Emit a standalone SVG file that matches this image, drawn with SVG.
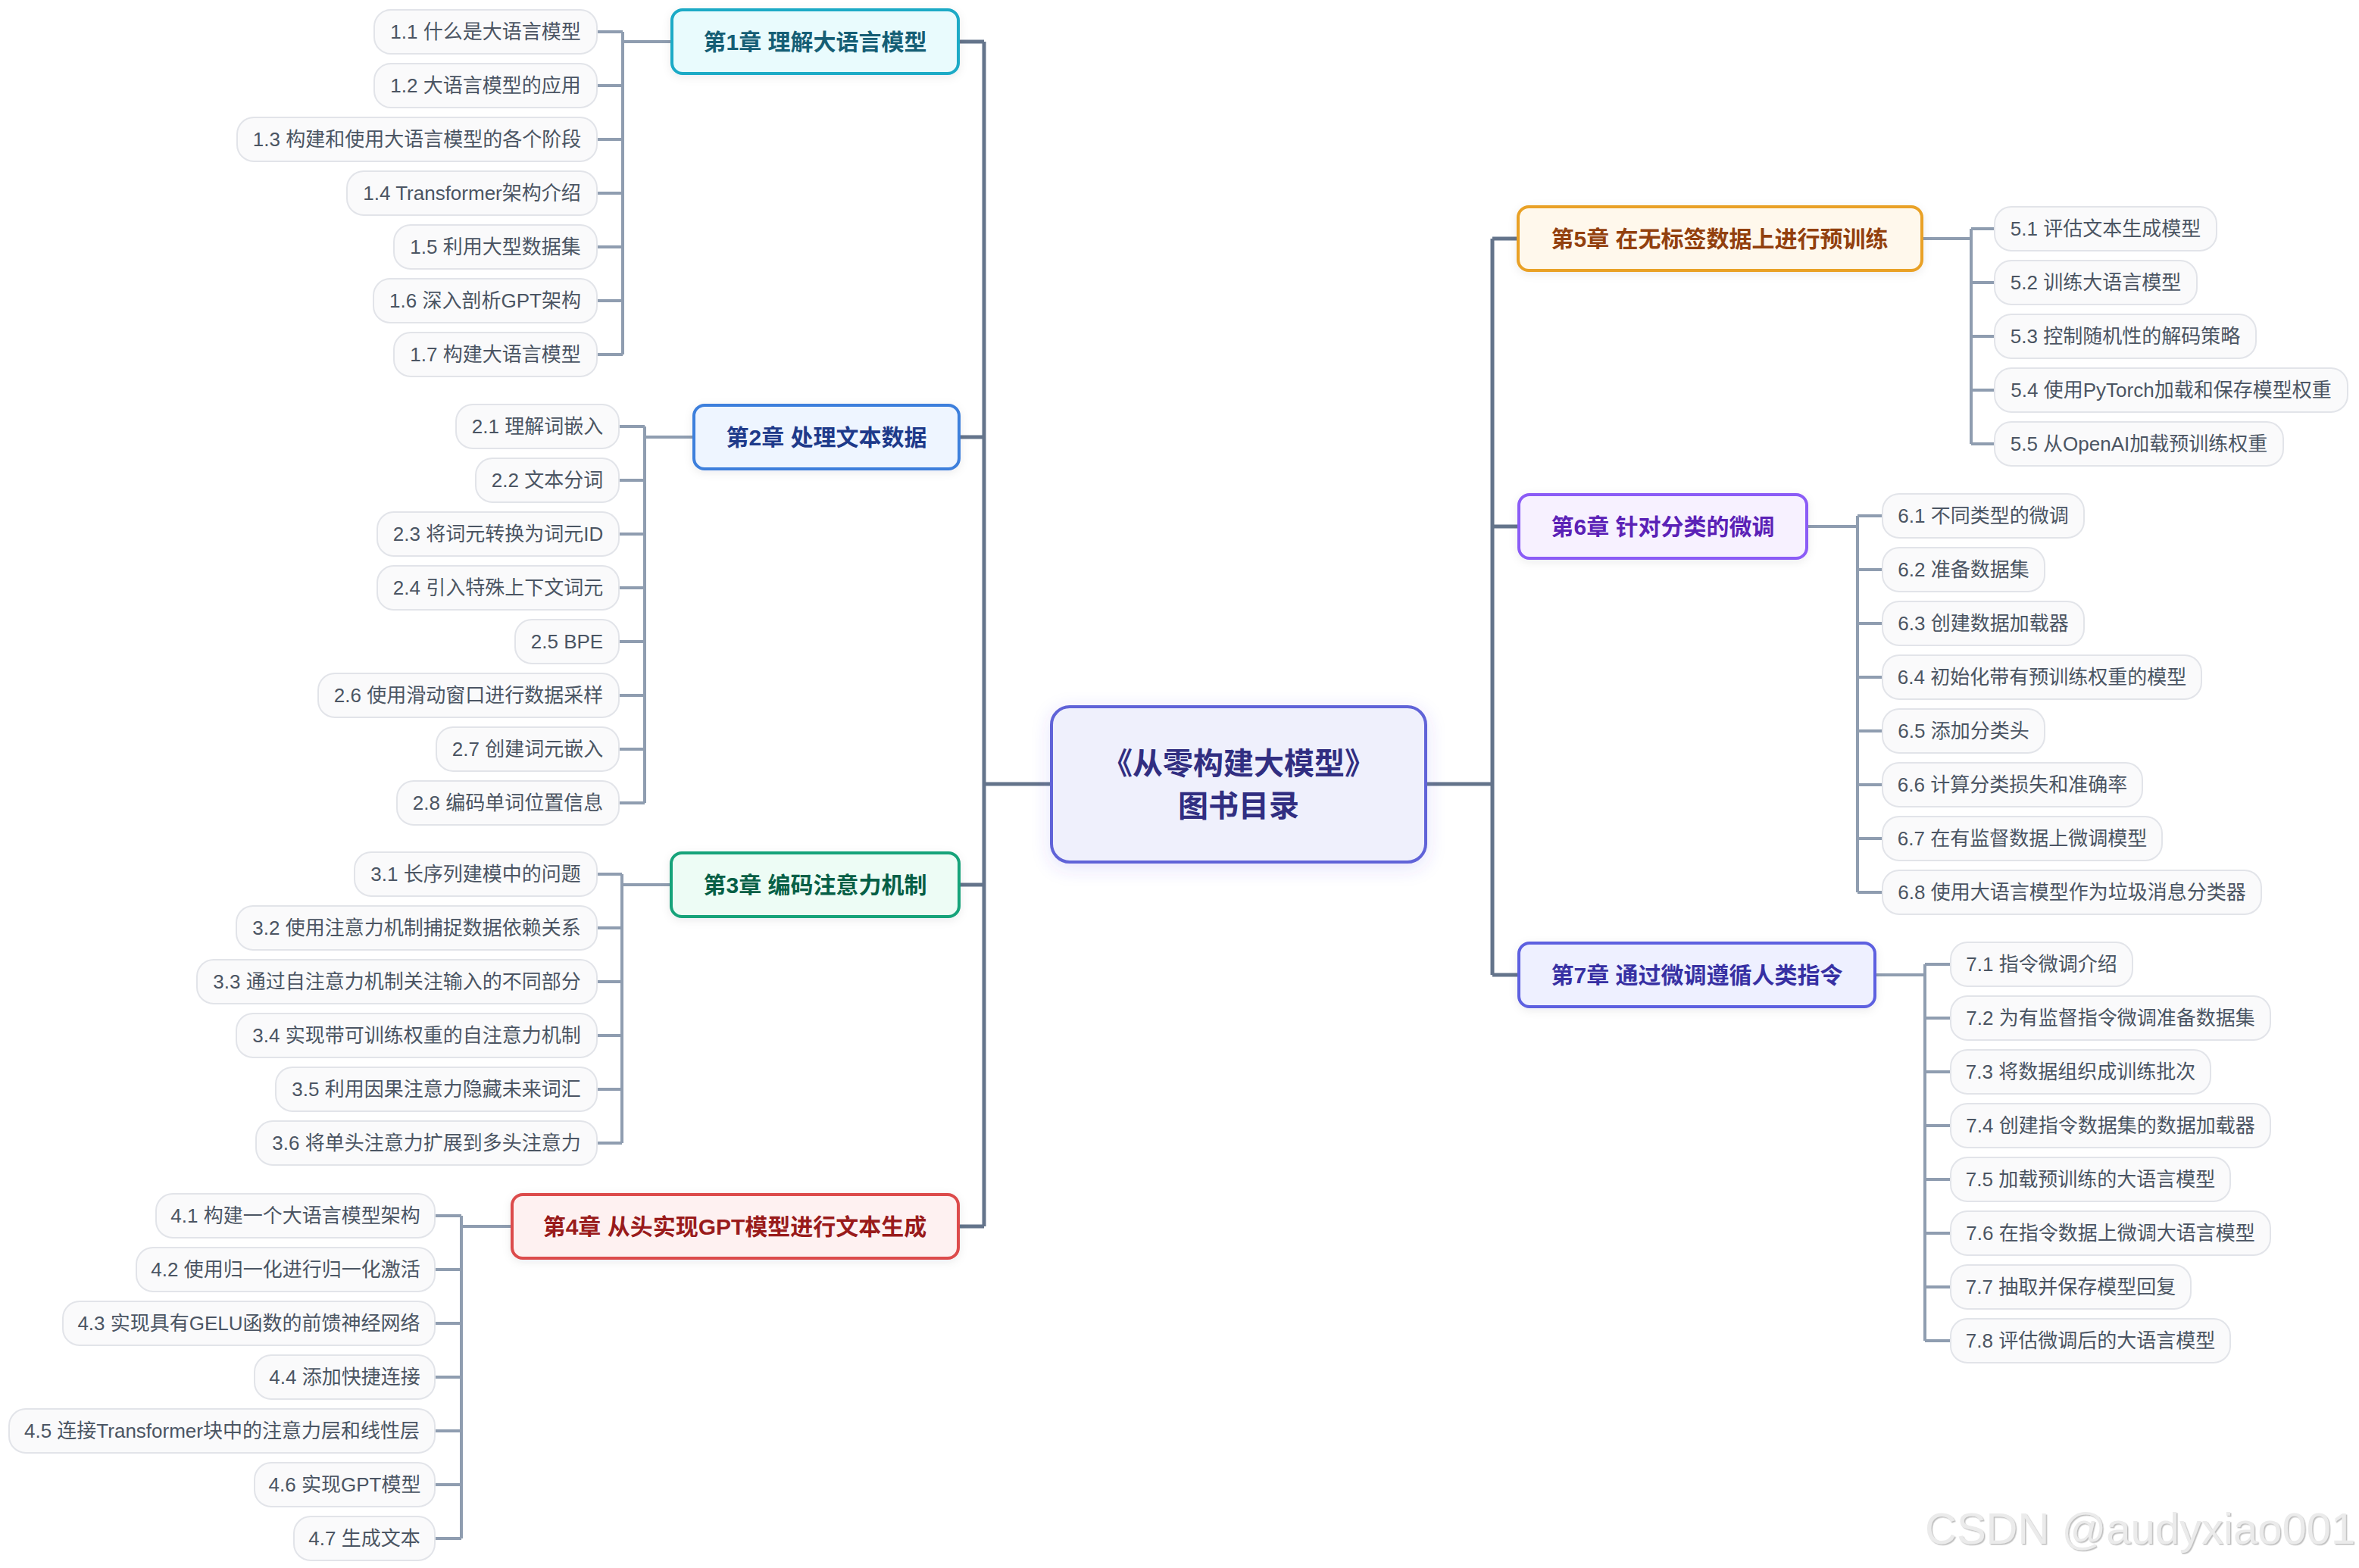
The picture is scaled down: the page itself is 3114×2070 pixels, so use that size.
<svg xmlns="http://www.w3.org/2000/svg" width="3114" height="2070" viewBox="0 0 3114 2070">
<defs>
<style>
.pill{fill:#fafafb;stroke:#e2e4e9;stroke-width:2}
.st{font-family:"Liberation Sans","Noto Sans CJK SC",sans-serif;font-size:26px;fill:#4b5563;text-anchor:middle;dominant-baseline:central}
.ct{font-family:"Liberation Sans","Noto Sans CJK SC",sans-serif;font-size:30px;font-weight:bold;text-anchor:middle;dominant-baseline:central}
.chap{stroke-width:4;filter:url(#sh)}
.sub{fill:none;stroke:#8f9db0;stroke-width:4}
.main{fill:none;stroke:#64748b;stroke-width:5}
.wm{font-family:"Liberation Sans",sans-serif;font-size:58px;fill:#ebebeb;filter:url(#emb)}
</style>
<filter id="sh" x="-20%" y="-40%" width="140%" height="180%">
<feDropShadow dx="0" dy="3" stdDeviation="6" flood-color="#1e293b" flood-opacity="0.08"/>
</filter>
<filter id="csh" x="-20%" y="-30%" width="140%" height="160%">
<feDropShadow dx="0" dy="6" stdDeviation="12" flood-color="#4f46e5" flood-opacity="0.15"/>
</filter>
<filter id="emb" x="-5%" y="-20%" width="110%" height="140%">
<feDropShadow dx="1.5" dy="1.5" stdDeviation="0.6" flood-color="#b8b8b8" flood-opacity="0.9"/>
</filter>
</defs>
<rect x="0" y="0" width="3114" height="2070" fill="#ffffff"/>

<g id="connectors">
<path class="main" d="M1388,1035 H1299 M1299,55 V1619 M1265,55 H1299 M1266,577 H1299 M1266,1168 H1299 M1265,1619 H1299"/>
<path class="main" d="M1882,1035 H1970 M1970,315 V1287 M1970,315 H2004 M1970,695 H2005 M1970,1287 H2005"/>
<path class="sub" d="M887,55 H822 M822,42 V468 M788,42 H822 M788,113 H822 M788,184 H822 M788,255 H822 M788,326 H822 M788,397 H822 M788,468 H822"/>
<path class="sub" d="M916,577 H851 M851,563 V1060 M817,563 H851 M817,634 H851 M817,705 H851 M817,776 H851 M817,847 H851 M817,918 H851 M817,989 H851 M817,1060 H851"/>
<path class="sub" d="M886,1168 H821 M821,1154 V1509 M788,1154 H821 M788,1225 H821 M788,1296 H821 M788,1367 H821 M788,1438 H821 M788,1509 H821"/>
<path class="sub" d="M676,1619 H609 M609,1605 V2031 M574,1605 H609 M574,1676 H609 M574,1747 H609 M574,1818 H609 M574,1889 H609 M574,1960 H609 M574,2031 H609"/>
<path class="sub" d="M2537,315 H2602 M2602,302 V586 M2602,302 H2633 M2602,373 H2633 M2602,444 H2633 M2602,515 H2633 M2602,586 H2633"/>
<path class="sub" d="M2385,695 H2452 M2452,681 V1178 M2452,681 H2485 M2452,752 H2485 M2452,823 H2485 M2452,894 H2485 M2452,965 H2485 M2452,1036 H2485 M2452,1107 H2485 M2452,1178 H2485"/>
<path class="sub" d="M2475,1287 H2541 M2541,1273 V1770 M2541,1273 H2575 M2541,1344 H2575 M2541,1415 H2575 M2541,1486 H2575 M2541,1557 H2575 M2541,1628 H2575 M2541,1699 H2575 M2541,1770 H2575"/>
</g>

<g id="root">
<rect x="1388" y="933" width="494" height="205" rx="24" fill="#eff0fc" stroke="#6064d8" stroke-width="4" filter="url(#csh)"/>
<text x="1635" y="1008" font-family="'Liberation Sans','Noto Sans CJK SC',sans-serif" font-size="40" font-weight="bold" fill="#312e81" text-anchor="middle" dominant-baseline="central">《从零构建大模型》</text>
<text x="1635" y="1064" font-family="'Liberation Sans','Noto Sans CJK SC',sans-serif" font-size="40" font-weight="bold" fill="#312e81" text-anchor="middle" dominant-baseline="central">图书目录</text>
</g>

<g id="ch1"><rect class="chap" x="887" y="13" width="378" height="84" rx="14" fill="#e9fbfd" stroke="#1aaac6"/><text class="ct" x="1076" y="55" fill="#155e75">第1章 理解大语言模型</text></g>
<g id="ch2"><rect class="chap" x="916" y="535" width="350" height="84" rx="14" fill="#eef5ff" stroke="#3d7fdc"/><text class="ct" x="1091" y="577" fill="#1e3a8a">第2章 处理文本数据</text></g>
<g id="ch3"><rect class="chap" x="886" y="1126" width="380" height="84" rx="14" fill="#edfcf5" stroke="#16a37a"/><text class="ct" x="1076" y="1168" fill="#065f46">第3章 编码注意力机制</text></g>
<g id="ch4"><rect class="chap" x="676" y="1577" width="589" height="84" rx="14" fill="#fef1f1" stroke="#dc4b4b"/><text class="ct" x="970" y="1619" fill="#991b1b">第4章 从头实现GPT模型进行文本生成</text></g>
<g id="ch5"><rect class="chap" x="2004" y="273" width="533" height="84" rx="14" fill="#fff8ec" stroke="#e9a126"/><text class="ct" x="2270" y="315" fill="#92400e">第5章 在无标签数据上进行预训练</text></g>
<g id="ch6"><rect class="chap" x="2005" y="653" width="380" height="84" rx="14" fill="#f7f1ff" stroke="#8b5cf6"/><text class="ct" x="2195" y="695" fill="#5b21b6">第6章 针对分类的微调</text></g>
<g id="ch7"><rect class="chap" x="2005" y="1245" width="470" height="84" rx="14" fill="#eef0ff" stroke="#5d60e0"/><text class="ct" x="2240" y="1287" fill="#3730a3">第7章 通过微调遵循人类指令</text></g>

<g id="s1-1"><rect class="pill" x="494" y="13" width="294" height="58" rx="22"/><text class="st" x="641" y="42">1.1 什么是大语言模型</text></g>
<g id="s1-2"><rect class="pill" x="494" y="84" width="294" height="58" rx="22"/><text class="st" x="641" y="113">1.2 大语言模型的应用</text></g>
<g id="s1-3"><rect class="pill" x="313" y="155" width="475" height="58" rx="22"/><text class="st" x="550.5" y="184">1.3 构建和使用大语言模型的各个阶段</text></g>
<g id="s1-4"><rect class="pill" x="458" y="226" width="330" height="58" rx="22"/><text class="st" x="623" y="255">1.4 Transformer架构介绍</text></g>
<g id="s1-5"><rect class="pill" x="520" y="297" width="268" height="58" rx="22"/><text class="st" x="654" y="326">1.5 利用大型数据集</text></g>
<g id="s1-6"><rect class="pill" x="493" y="368" width="295" height="58" rx="22"/><text class="st" x="640.5" y="397">1.6 深入剖析GPT架构</text></g>
<g id="s1-7"><rect class="pill" x="520" y="439" width="268" height="58" rx="22"/><text class="st" x="654" y="468">1.7 构建大语言模型</text></g>

<g id="s2-1"><rect class="pill" x="602" y="534" width="215" height="58" rx="22"/><text class="st" x="709.5" y="563">2.1 理解词嵌入</text></g>
<g id="s2-2"><rect class="pill" x="628" y="605" width="189" height="58" rx="22"/><text class="st" x="722.5" y="634">2.2 文本分词</text></g>
<g id="s2-3"><rect class="pill" x="498" y="676" width="319" height="58" rx="22"/><text class="st" x="657.5" y="705">2.3 将词元转换为词元ID</text></g>
<g id="s2-4"><rect class="pill" x="498" y="747" width="319" height="58" rx="22"/><text class="st" x="657.5" y="776">2.4 引入特殊上下文词元</text></g>
<g id="s2-5"><rect class="pill" x="680" y="818" width="137" height="58" rx="22"/><text class="st" x="748.5" y="847">2.5 BPE</text></g>
<g id="s2-6"><rect class="pill" x="420" y="889" width="397" height="58" rx="22"/><text class="st" x="618.5" y="918">2.6 使用滑动窗口进行数据采样</text></g>
<g id="s2-7"><rect class="pill" x="576" y="960" width="241" height="58" rx="22"/><text class="st" x="696.5" y="989">2.7 创建词元嵌入</text></g>
<g id="s2-8"><rect class="pill" x="524" y="1031" width="293" height="58" rx="22"/><text class="st" x="670.5" y="1060">2.8 编码单词位置信息</text></g>

<g id="s3-1"><rect class="pill" x="468" y="1125" width="320" height="58" rx="22"/><text class="st" x="628" y="1154">3.1 长序列建模中的问题</text></g>
<g id="s3-2"><rect class="pill" x="312" y="1196" width="476" height="58" rx="22"/><text class="st" x="550" y="1225">3.2 使用注意力机制捕捉数据依赖关系</text></g>
<g id="s3-3"><rect class="pill" x="260" y="1267" width="528" height="58" rx="22"/><text class="st" x="524" y="1296">3.3 通过自注意力机制关注输入的不同部分</text></g>
<g id="s3-4"><rect class="pill" x="312" y="1338" width="476" height="58" rx="22"/><text class="st" x="550" y="1367">3.4 实现带可训练权重的自注意力机制</text></g>
<g id="s3-5"><rect class="pill" x="364" y="1409" width="424" height="58" rx="22"/><text class="st" x="576" y="1438">3.5 利用因果注意力隐藏未来词汇</text></g>
<g id="s3-6"><rect class="pill" x="338" y="1480" width="450" height="58" rx="22"/><text class="st" x="563" y="1509">3.6 将单头注意力扩展到多头注意力</text></g>

<g id="s4-1"><rect class="pill" x="206" y="1576" width="368" height="58" rx="22"/><text class="st" x="390" y="1605">4.1 构建一个大语言模型架构</text></g>
<g id="s4-2"><rect class="pill" x="180" y="1647" width="394" height="58" rx="22"/><text class="st" x="377" y="1676">4.2 使用归一化进行归一化激活</text></g>
<g id="s4-3"><rect class="pill" x="83" y="1718" width="491" height="58" rx="22"/><text class="st" x="328.5" y="1747">4.3 实现具有GELU函数的前馈神经网络</text></g>
<g id="s4-4"><rect class="pill" x="336" y="1789" width="238" height="58" rx="22"/><text class="st" x="455" y="1818">4.4 添加快捷连接</text></g>
<g id="s4-5"><rect class="pill" x="12" y="1860" width="562" height="58" rx="22"/><text class="st" x="293" y="1889">4.5 连接Transformer块中的注意力层和线性层</text></g>
<g id="s4-6"><rect class="pill" x="336" y="1931" width="238" height="58" rx="22"/><text class="st" x="455" y="1960">4.6 实现GPT模型</text></g>
<g id="s4-7"><rect class="pill" x="388" y="2002" width="186" height="58" rx="22"/><text class="st" x="481" y="2031">4.7 生成文本</text></g>

<g id="s5-1"><rect class="pill" x="2633" y="273" width="293" height="58" rx="22"/><text class="st" x="2779.5" y="302">5.1 评估文本生成模型</text></g>
<g id="s5-2"><rect class="pill" x="2633" y="344" width="267" height="58" rx="22"/><text class="st" x="2766.5" y="373">5.2 训练大语言模型</text></g>
<g id="s5-3"><rect class="pill" x="2633" y="415" width="345" height="58" rx="22"/><text class="st" x="2805.5" y="444">5.3 控制随机性的解码策略</text></g>
<g id="s5-4"><rect class="pill" x="2633" y="486" width="466" height="58" rx="22"/><text class="st" x="2866" y="515">5.4 使用PyTorch加载和保存模型权重</text></g>
<g id="s5-5"><rect class="pill" x="2633" y="557" width="381" height="58" rx="22"/><text class="st" x="2823.5" y="586">5.5 从OpenAI加载预训练权重</text></g>

<g id="s6-1"><rect class="pill" x="2485" y="652" width="266" height="58" rx="22"/><text class="st" x="2618" y="681">6.1 不同类型的微调</text></g>
<g id="s6-2"><rect class="pill" x="2485" y="723" width="214" height="58" rx="22"/><text class="st" x="2592" y="752">6.2 准备数据集</text></g>
<g id="s6-3"><rect class="pill" x="2485" y="794" width="266" height="58" rx="22"/><text class="st" x="2618" y="823">6.3 创建数据加载器</text></g>
<g id="s6-4"><rect class="pill" x="2485" y="865" width="421" height="58" rx="22"/><text class="st" x="2695.5" y="894">6.4 初始化带有预训练权重的模型</text></g>
<g id="s6-5"><rect class="pill" x="2485" y="936" width="214" height="58" rx="22"/><text class="st" x="2592" y="965">6.5 添加分类头</text></g>
<g id="s6-6"><rect class="pill" x="2485" y="1007" width="343" height="58" rx="22"/><text class="st" x="2656.5" y="1036">6.6 计算分类损失和准确率</text></g>
<g id="s6-7"><rect class="pill" x="2485" y="1078" width="369" height="58" rx="22"/><text class="st" x="2669.5" y="1107">6.7 在有监督数据上微调模型</text></g>
<g id="s6-8"><rect class="pill" x="2485" y="1149" width="500" height="58" rx="22"/><text class="st" x="2735" y="1178">6.8 使用大语言模型作为垃圾消息分类器</text></g>

<g id="s7-1"><rect class="pill" x="2575" y="1244" width="240" height="58" rx="22"/><text class="st" x="2695" y="1273">7.1 指令微调介绍</text></g>
<g id="s7-2"><rect class="pill" x="2575" y="1315" width="422" height="58" rx="22"/><text class="st" x="2786" y="1344">7.2 为有监督指令微调准备数据集</text></g>
<g id="s7-3"><rect class="pill" x="2575" y="1386" width="343" height="58" rx="22"/><text class="st" x="2746.5" y="1415">7.3 将数据组织成训练批次</text></g>
<g id="s7-4"><rect class="pill" x="2575" y="1457" width="422" height="58" rx="22"/><text class="st" x="2786" y="1486">7.4 创建指令数据集的数据加载器</text></g>
<g id="s7-5"><rect class="pill" x="2575" y="1528" width="369" height="58" rx="22"/><text class="st" x="2759.5" y="1557">7.5 加载预训练的大语言模型</text></g>
<g id="s7-6"><rect class="pill" x="2575" y="1599" width="422" height="58" rx="22"/><text class="st" x="2786" y="1628">7.6 在指令数据上微调大语言模型</text></g>
<g id="s7-7"><rect class="pill" x="2575" y="1670" width="317" height="58" rx="22"/><text class="st" x="2733.5" y="1699">7.7 抽取并保存模型回复</text></g>
<g id="s7-8"><rect class="pill" x="2575" y="1741" width="369" height="58" rx="22"/><text class="st" x="2759.5" y="1770">7.8 评估微调后的大语言模型</text></g>

<text class="wm" x="2541" y="2038">CSDN @audyxiao001</text>
</svg>
